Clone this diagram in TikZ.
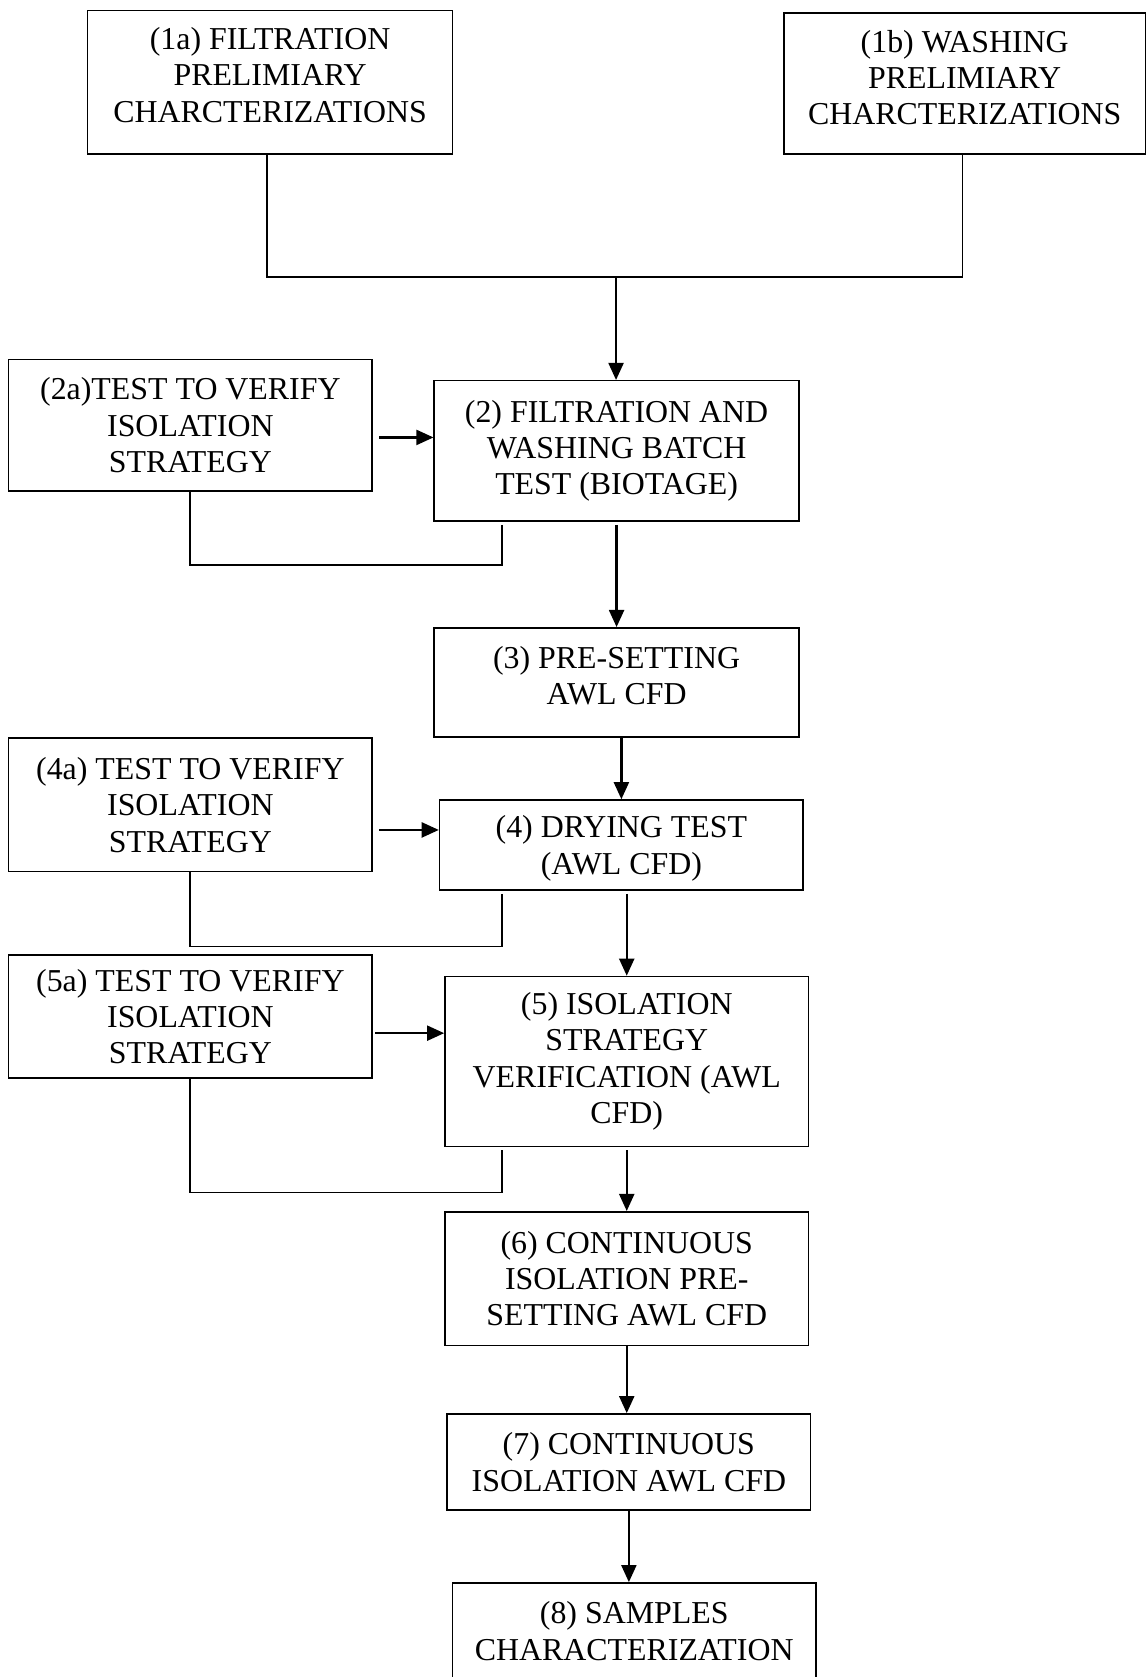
\documentclass[tikz,border=0pt]{standalone}
\usepackage{fontspec}
\setmainfont{Liberation Serif}
\usetikzlibrary{arrows.meta}

\begin{document}
\begin{tikzpicture}[x=0.5pt,y=-0.5pt,
  box/.style={draw, line width=0.7pt, align=center, inner sep=2pt,
    font=\fontsize{14.9}{17}\selectfont},
  lift/.style={text depth=#1},
  arr/.style={line width=1.1pt, -{Triangle[length=8pt,width=7pt]}},
  fb/.style={line width=0.85pt}]
\useasboundingbox (0,0) rectangle (1072,1568);

% preliminary characterizations
\node[box, lift=7pt, minimum width=170.5pt, minimum height=67pt] (n1a) at (252.5,77)
  {(1a) FILTRATION\\PRELIMIARY\\CHARCTERIZATIONS};
\node[box, lift=5.5pt, minimum width=169pt, minimum height=66pt] (n1b) at (902,78)
  {(1b) WASHING\\PRELIMIARY\\CHARCTERIZATIONS};

% main sequence
\node[box, minimum width=170.5pt, minimum height=65.5pt] (n2) at (576.5,421.5)
  {(2) FILTRATION AND\\WASHING BATCH\\TEST (BIOTAGE)};
\node[box, lift=6.5pt, minimum width=170.5pt, minimum height=51pt] (n3) at (576.5,638)
  {(3) PRE-SETTING\\AWL CFD};
\node[box, lift=-5pt, minimum width=170pt, minimum height=42pt] (n4) at (581,790)
  {(4) DRYING TEST\\(AWL CFD)};
\node[box, minimum width=170pt, minimum height=79.5pt] (n5) at (586,992.5)
  {(5) ISOLATION\\STRATEGY\\VERIFICATION (AWL\\CFD)};
\node[box, minimum width=170pt, minimum height=62.5pt] (n6) at (586,1195.5)
  {(6) CONTINUOUS\\ISOLATION PRE-\\SETTING AWL CFD};
\node[box, minimum width=170pt, minimum height=45pt] (n7) at (588,1367)
  {(7) CONTINUOUS\\ISOLATION AWL CFD};
\node[box, minimum width=170pt, minimum height=45pt] (n8) at (593,1525)
  {(8) SAMPLES\\CHARACTERIZATION};

% verification tests
\node[box, minimum width=170pt, minimum height=61.5pt] (n2a) at (178,397.5)
  {(2a)TEST TO VERIFY\\ISOLATION\\STRATEGY};
\node[box, minimum width=170pt, minimum height=62.5pt] (n4a) at (178,752.5)
  {(4a) TEST TO VERIFY\\ISOLATION\\STRATEGY};
\node[box, minimum width=170pt, minimum height=57.5pt] (n5a) at (178,950.5)
  {(5a) TEST TO VERIFY\\ISOLATION\\STRATEGY};

% junction of the two preliminary branches
\coordinate (jl) at (250,259);
\coordinate (jr) at (900,259);
\coordinate (jm) at (576,259);
\draw[fb] (n1a.south -| jl) -- (jl) -- (jr) -- (n1b.south -| jr);
\draw[arr] (jm) -- (jm |- n2.north);

% arrow levels and feedback corners
\coordinate (a2) at (0,409);
\coordinate (a4) at (0,776);
\coordinate (a5) at (0,966);
\coordinate (f2) at (469,528);
\coordinate (f4) at (469,885);
\coordinate (f5) at (469,1115);

% test -> step arrows
\draw[arr, shorten <=3pt] (n2a.east |- a2) -- (n2.west |- a2);
\draw[arr, shorten <=3pt] (n4a.east |- a4) -- (n4.west |- a4);
\draw[arr, shorten <=1pt] (n5a.east |- a5) -- (n5.west |- a5);

% feedback loops
\draw[fb, shorten <=1.5pt] (n2.south -| f2) -- (f2) -- (f2 -| n2a.south) -- (n2a.south);
\draw[fb, shorten <=1.5pt] (n4.south -| f4) -- (f4) -- (f4 -| n4a.south) -- (n4a.south);
\draw[fb, shorten <=1.5pt] (n5.south -| f5) -- (f5) -- (f5 -| n5a.south) -- (n5a.south);

% main flow
\draw[arr, shorten <=1.5pt] (n2.south) -- (n3.north);
\draw[arr] (n3.south -| n4.north) -- (n4.north);
\draw[arr, shorten <=1.5pt] (n4.south -| n5.north) -- (n5.north);
\draw[arr, shorten <=1.5pt] (n5.south) -- (n6.north);
\draw[arr] (n6.south) -- (n6.south |- n7.north);
\draw[arr] (n7.south) -- (n7.south |- n8.north);
\end{tikzpicture}
\end{document}
